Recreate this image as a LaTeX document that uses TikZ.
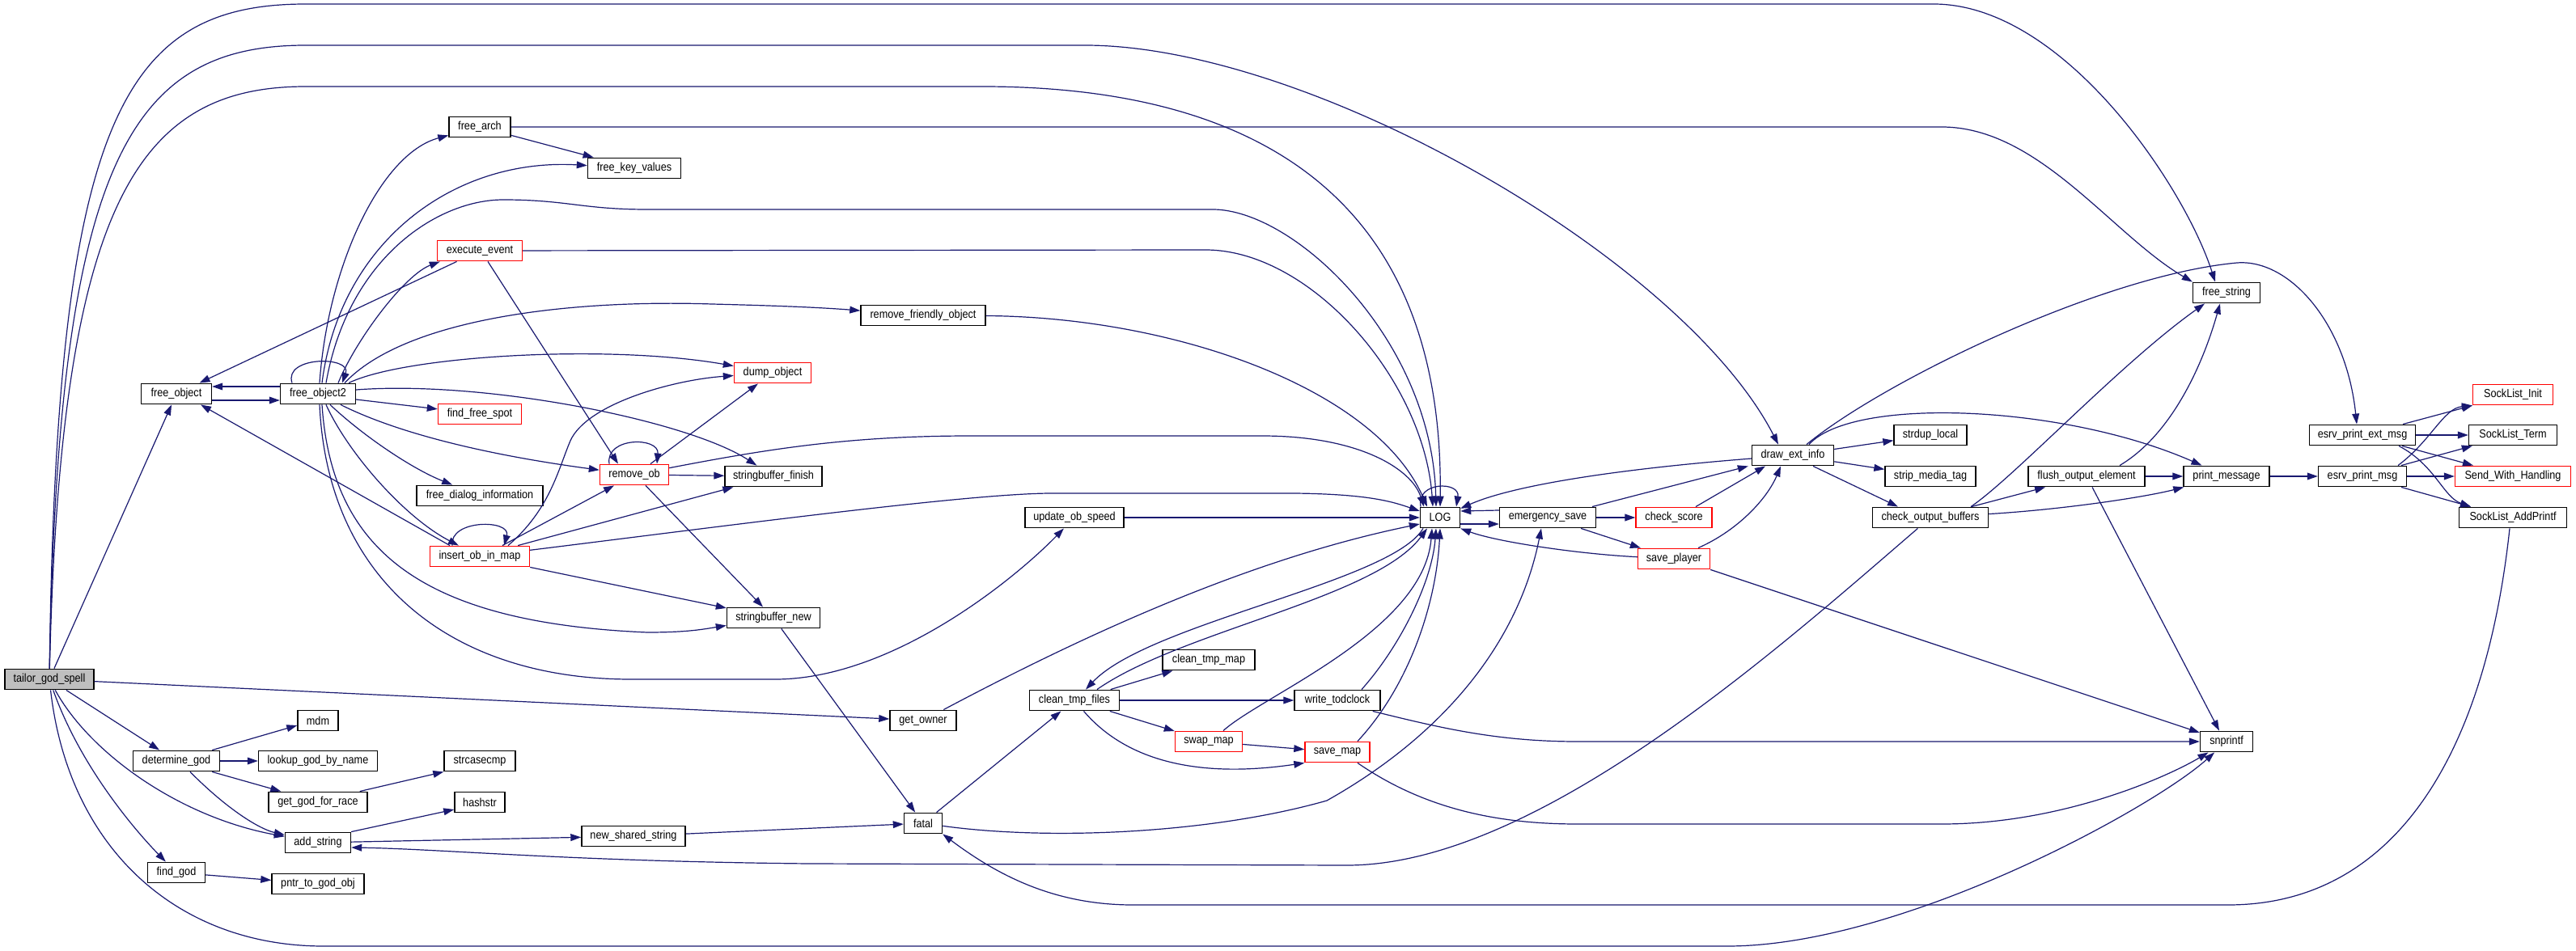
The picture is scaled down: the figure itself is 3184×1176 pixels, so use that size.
\documentclass[tikz,border=0pt]{standalone}
\usepackage{fontspec}
\newfontfamily\nf{Liberation Sans}[FakeStretch=0.88]
\usetikzlibrary{calc,arrows.meta}
\definecolor{edgec}{HTML}{191970}
\definecolor{nodegray}{HTML}{BFBFBF}
\begin{document}
\begin{tikzpicture}[x=0.5pt,y=-0.5pt,
 nd/.style={draw=black, line width=0.7pt, fill=white, rectangle, inner sep=0pt, minimum height=12.75pt, font=\nf\fontsize{7.2}{8}\selectfont},
 rd/.style={nd, draw=red},
 gd/.style={nd, fill=nodegray},
 ed/.style={draw=edgec, line width=0.6pt, -{Triangle[length=6.5pt,width=4.4pt]}}]
\fill[white] (0,0) rectangle (3184,1176);
\useasboundingbox (0,0) rectangle (3184,1176);
% nodes
\node[gd, minimum width=55pt] (T) at (61,840) {tailor\_god\_spell};
\node[nd, minimum width=43.5pt] (fo) at (218,487) {free\_object};
\node[nd, minimum width=46.5pt] (fo2) at (393,487) {free\_object2};
\node[nd, minimum width=38pt] (farch) at (593,157) {free\_arch};
\node[nd, minimum width=57.5pt] (fkv) at (784,208) {free\_key\_values};
\node[rd, minimum width=52.5pt] (ee) at (593,310) {execute\_event};
\node[rd, minimum width=51.5pt] (ffs) at (593,512) {find\_free\_spot};
\node[rd, minimum width=42.5pt] (rob) at (784,587) {remove\_ob};
\node[nd, minimum width=78pt] (fdi) at (593,613) {free\_dialog\_information};
\node[rd, minimum width=61.5pt] (iom) at (593,688) {insert\_ob\_in\_map};
\node[nd, minimum width=77pt] (rfo) at (1141,390) {remove\_friendly\_object};
\node[rd, minimum width=47.5pt] (dump) at (955,461) {dump\_object};
\node[nd, minimum width=60pt] (sbf) at (956,589) {stringbuffer\_finish};
\node[nd, minimum width=57.5pt] (sbn) at (956,764) {stringbuffer\_new};
\node[nd, minimum width=61pt] (uos) at (1328,640) {update\_ob\_speed};
\node[nd, minimum width=41pt] (go) at (1141,891) {get\_owner};
\node[nd, minimum width=55.5pt] (ctf) at (1328,866) {clean\_tmp\_files};
\node[nd, minimum width=57pt] (ctm) at (1494,816) {clean\_tmp\_map};
\node[rd, minimum width=41.5pt] (swm) at (1494,917) {swap\_map};
\node[nd, minimum width=23.5pt] (fatal) at (1141,1018) {fatal};
\node[nd, minimum width=25pt] (mdm) at (393,891) {mdm};
\node[nd, minimum width=53.5pt] (dg) at (218,941) {determine\_god};
\node[nd, minimum width=73.5pt] (lg) at (393,941) {lookup\_god\_by\_name};
\node[nd, minimum width=44pt] (sc) at (593,941) {strcasecmp};
\node[nd, minimum width=61pt] (gg) at (393,992) {get\_god\_for\_race};
\node[nd, minimum width=31pt] (hs) at (593,992) {hashstr};
\node[nd, minimum width=40.5pt] (as) at (393,1042) {add\_string};
\node[nd, minimum width=64pt] (nss) at (783,1034) {new\_shared\_string};
\node[nd, minimum width=35.5pt] (fg) at (218,1079) {find\_god};
\node[nd, minimum width=57pt] (pg) at (393,1093) {pntr\_to\_god\_obj};
\node[nd, minimum width=24.5pt] (LOG) at (1780,640) {LOG};
\node[nd, minimum width=59.5pt] (es) at (1913,640) {emergency\_save};
\node[rd, minimum width=47pt] (cs) at (2069,640) {check\_score};
\node[rd, minimum width=44.5pt] (sp) at (2069,691) {save\_player};
\node[nd, minimum width=53pt] (wt) at (1653,866) {write\_todclock};
\node[rd, minimum width=40pt] (sm) at (1653,930) {save\_map};
\node[nd, minimum width=50.5pt] (dei) at (2216,563) {draw\_ext\_info};
\node[nd, minimum width=45pt] (sdl) at (2386,538) {strdup\_local};
\node[nd, minimum width=56pt] (smt) at (2386,589) {strip\_media\_tag};
\node[nd, minimum width=71.5pt] (cob) at (2386,640) {check\_output\_buffers};
\node[nd, minimum width=72pt] (foe) at (2579,589) {flush\_output\_element};
\node[nd, minimum width=53pt] (pm) at (2752,589) {print\_message};
\node[nd, minimum width=41.5pt] (fs) at (2752,362) {free\_string};
\node[nd, minimum width=65.5pt] (epem) at (2920,538) {esrv\_print\_ext\_msg};
\node[nd, minimum width=54.5pt] (epm) at (2920,589) {esrv\_print\_msg};
\node[rd, minimum width=49.5pt] (sli) at (3106,488) {SockList\_Init};
\node[nd, minimum width=54.5pt] (slt) at (3106,538) {SockList\_Term};
\node[rd, minimum width=71.5pt] (swh) at (3106,589) {Send\_With\_Handling};
\node[nd, minimum width=66.5pt] (slap) at (3106,640) {SockList\_AddPrintf};
\node[nd, minimum width=32.5pt] (snp) at (2752,917) {snprintf};
% free_object / free_object2
\draw[ed] ($(fo2.west)+(0,-9)$) -- ($(fo.east)+(0,-9)$);
\draw[ed] ($(fo.east)+(0,8)$) -- ($(fo2.west)+(0,8)$);
\draw[ed] ($(fo2.north)+(-32,0)$) .. controls (350,440) and (435,440) .. ($(fo2.north)+(30,0)$);
\draw[ed] ($(fo2.north)+(2,0)$) .. controls (405,330) and (470,190) .. (farch);
\draw[ed] ($(fo2.north)+(5,0)$) .. controls (420,300) and (560,195) .. (fkv);
\draw[ed] ($(fo2.north)+(10,0)$) .. controls (430,320) and (540,247) .. (622,247) .. controls (700,247) and (720,259) .. (800,259) -- (1499,259) .. controls (1600,259) and (1770,420) .. ($(LOG.north)+(-5,0)$);
\draw[ed] ($(fo2.north)+(25,0)$) .. controls (440,420) and (500,340) .. ($(ee.south west)+(4,0)$);
\draw[ed] ($(fo2.north)+(33,0)$) .. controls (500,395) and (700,370) .. (880,376) .. controls (960,378) and (1010,380) .. (rfo);
\draw[ed] ($(fo2.north)+(38,0)$) .. controls (500,440) and (750,425) .. (dump);
\draw[ed] ($(fo2.east)+(0,-5)$) .. controls (600,470) and (850,520) .. (sbf);
\draw[ed] ($(fo2.east)+(0,7)$) -- (ffs);
\draw[ed] ($(fo2.south)+(28,0)$) .. controls (500,540) and (620,565) .. (rob);
\draw[ed] ($(fo2.south)+(15,0)$) .. controls (450,540) and (510,580) .. (fdi);
\draw[ed] ($(fo2.south)+(10,0)$) .. controls (430,560) and (500,640) .. (iom);
\draw[ed] ($(fo2.south)+(5,0)$) .. controls (410,680) and (520,770) .. (800,782) .. controls (850,782) and (870,778) .. (sbn);
\draw[ed] ($(fo2.south)+(2,0)$) .. controls (405,720) and (560,840) .. (780,840) -- (958,840) .. controls (1100,840) and (1250,720) .. (uos);
% execute_event
\draw[ed] (ee) -- (fo);
\draw[ed] (ee) -- (1490,309) .. controls (1620,309) and (1760,470) .. ($(LOG.north)+(-9,0)$);
\draw[ed] ($(ee.south)+(10,0)$) -- ($(rob.north)+(-20,0)$);
% free_arch
\draw[ed] (farch) -- (fkv);
\draw[ed] (farch) -- (2400,157) .. controls (2520,157) and (2610,290) .. (fs.north west);
% tailor_god_spell
\draw[ed] (T) .. controls (70,150) and (150,5) .. (378,5) -- (2390,5) .. controls (2550,5) and (2700,230) .. ($(fs.north)+(-14,0)$);
\draw[ed] (T) .. controls (72,200) and (160,56) .. (378,56) -- (1341,56) .. controls (1620,56) and (2080,320) .. ($(dei.north)+(-18,0)$);
\draw[ed] (T) .. controls (75,250) and (170,107) .. (378,107) -- (1214,107) .. controls (1560,107) and (1785,250) .. (LOG.north);
\draw[ed] (T) -- (fo);
\draw[ed] (T) -- (go);
\draw[ed] (T) -- (dg);
\draw[ed] (T) .. controls (110,930) and (220,1010) .. (as);
\draw[ed] (T) .. controls (100,950) and (170,1030) .. (fg);
\draw[ed] (T) .. controls (85,1050) and (220,1170) .. (400,1170) -- (2135,1170) .. controls (2350,1170) and (2660,1000) .. (snp);
% remove_ob
\draw[ed] ($(rob.north)+(-31,0)$) .. controls (748,540) and (815,540) .. ($(rob.north)+(28,0)$);
\draw[ed] ($(rob.north)+(20,0)$) -- (dump);
\draw[ed] (rob) -- (sbf);
\draw[ed] ($(rob.south)+(14,0)$) -- (sbn);
\draw[ed] (rob) .. controls (950,555) and (1050,539) .. (1200,539) -- (1560,539) .. controls (1680,539) and (1745,580) .. ($(LOG.north)+(-20,0)$);
% insert_ob_in_map
\draw[ed] ($(iom.north)+(-34,0)$) .. controls (555,642) and (632,642) .. ($(iom.north)+(30,0)$);
\draw[ed] ($(iom.north)+(-37,0)$) -- ($(fo.south)+(30,0)$);
\draw[ed] ($(iom.north)+(28,0)$) -- ($(rob.south)+(-25,0)$);
\draw[ed] ($(iom.north)+(35,0)$) .. controls (680,630) and (690,580) .. (705,545) .. controls (725,500) and (830,470) .. (dump);
\draw[ed] ($(iom.north east)+(-15,0)$) -- (sbf);
\draw[ed] (iom) .. controls (900,650) and (1200,610) .. (1300,610) -- (1600,610) .. controls (1690,611) and (1720,620) .. ($(LOG.west)+(0,-8)$);
\draw[ed] (iom.south east) -- (sbn);
% middle
\draw[ed] (rfo) .. controls (1450,392) and (1700,480) .. ($(LOG.north)+(-16,0)$);
\draw[ed] (uos) -- (LOG);
\draw[ed] (go) .. controls (1350,780) and (1550,690) .. ($(LOG.west)+(0,8)$);
\draw[ed] (sbn) -- (fatal);
\draw[ed] (fatal) -- (ctf);
\draw[ed] (fatal) .. controls (1300,1040) and (1500,1030) .. (1640,990) .. controls (1800,900) and (1880,780) .. ($(es.south)+(-8,0)$);
\draw[ed] (ctf) -- (ctm);
\draw[ed] (ctf) -- (wt);
\draw[ed] (ctf) -- (swm);
\draw[ed] (ctf) .. controls (1400,950) and (1500,960) .. (sm.south west);
\draw[ed] ($(ctf.north)+(28,0)$) .. controls (1460,780) and (1700,740) .. ($(LOG.south)+(-16,0)$);
\draw[ed] ($(LOG.south)+(-21,0)$) .. controls (1720,720) and (1420,770) .. ($(ctf.north)+(14,0)$);
\draw[ed] (swm) -- (sm);
\draw[ed] ($(swm.north)+(18,0)$) .. controls (1560,860) and (1760,780) .. ($(LOG.south)+(-10,0)$);
\draw[ed] ($(wt.north)+(30,0)$) .. controls (1730,800) and (1770,720) .. ($(LOG.south)+(-5,0)$);
\draw[ed] ($(wt.south east)+(-10,0)$) .. controls (1780,900) and (1850,917) .. (1950,917) -- (snp);
\draw[ed] ($(sm.north)+(25,0)$) .. controls (1740,850) and (1775,750) .. (LOG.south);
\draw[ed] ($(sm.south)+(25,0)$) .. controls (1760,1000) and (1850,1019) .. (1950,1019) -- (2400,1019) .. controls (2550,1019) and (2680,960) .. (snp);
% LOG cluster
\draw[ed] ($(LOG.north)+(-24,0)$) .. controls (1750,595) and (1805,595) .. ($(LOG.north)+(20,0)$);
\draw[ed] ($(LOG.east)+(0,8)$) -- ($(es.west)+(0,8)$);
\draw[ed] ($(es.west)+(0,-9)$) -- ($(LOG.east)+(0,-8)$);
\draw[ed] (es) -- (cs);
\draw[ed] (es) -- (sp);
\draw[ed] ($(es.north)+(55,0)$) -- ($(dei.south west)+(-4,0)$);
\draw[ed] ($(cs.north)+(27,0)$) -- ($(dei.south)+(-34,0)$);
\draw[ed] ($(sp.north)+(30,0)$) .. controls (2150,655) and (2185,615) .. ($(dei.south)+(-15,0)$);
\draw[ed] (sp) .. controls (1950,685) and (1850,670) .. (LOG.south east);
\draw[ed] (sp.south east) -- (snp);
% draw_ext_info
\draw[ed] (dei) .. controls (2000,580) and (1870,600) .. (LOG);
\draw[ed] (dei) -- (sdl);
\draw[ed] (dei) -- (smt);
\draw[ed] ($(dei.south)+(25,0)$) -- ($(cob.north)+(-40,0)$);
\draw[ed] ($(dei.north)+(17,0)$) .. controls (2330,470) and (2600,340) .. (2765,325) .. controls (2830,320) and (2900,400) .. ($(epem.north)+(-7,0)$);
\draw[ed] ($(dei.north)+(20,0)$) .. controls (2290,490) and (2550,500) .. (pm);
% right side
\draw[ed] (cob) -- (foe);
\draw[ed] (cob) .. controls (2550,630) and (2650,615) .. (pm);
\draw[ed] ($(cob.north)+(50,0)$) .. controls (2490,590) and (2620,450) .. ($(fs.south)+(-27,0)$);
\draw[ed] (cob) .. controls (2200,800) and (1900,1070) .. (1665,1070) -- (1000,1068) .. controls (700,1065) and (550,1050) .. ($(as.east)+(0,6)$);
\draw[ed] ($(foe.north)+(41,0)$) .. controls (2680,540) and (2720,460) .. ($(fs.south)+(-8,0)$);
\draw[ed] (foe) -- (pm);
\draw[ed] ($(foe.south)+(7,0)$) -- ($(snp.north)+(-9,0)$);
\draw[ed] (pm) -- (epm);
\draw[ed] (epem) -- (sli);
\draw[ed] (epem) -- (slt);
\draw[ed] (epem) -- (swh);
\draw[ed] ($(epem.south)+(45,0)$) .. controls (3010,575) and (3020,615) .. ($(slap.north)+(-52,0)$);
\draw[ed] ($(epm.north)+(44,0)$) .. controls (3005,545) and (3020,505) .. (sli.south west);
\draw[ed] ($(epm.north)+(48,0)$) -- ($(slt.south west)+(5,0)$);
\draw[ed] (epm) -- (swh);
\draw[ed] ($(epm.south)+(48,0)$) -- ($(slap.north)+(-52,0)$);
\draw[ed] ($(slap.south)+(-4,0)$) .. controls (3070,950) and (2950,1119) .. (2754,1119) -- (1400,1119) .. controls (1300,1119) and (1230,1080) .. (fatal.south east);
% god group
\draw[ed] ($(dg.north east)+(-10,0)$) -- ($(mdm.west)+(0,6)$);
\draw[ed] (dg) -- (lg);
\draw[ed] ($(dg.south east)+(-10,0)$) -- ($(gg.north west)+(16,0)$);
\draw[ed] ($(dg.south)+(17,0)$) .. controls (280,1000) and (320,1025) .. (as);
\draw[ed] ($(gg.north east)+(-10,0)$) -- (sc.south west);
\draw[ed] (as.north east) -- ($(hs.west)+(0,9)$);
\draw[ed] (as) -- (nss);
\draw[ed] (fg) -- (pg);
\draw[ed] (nss) -- (fatal);
\end{tikzpicture}
\end{document}
